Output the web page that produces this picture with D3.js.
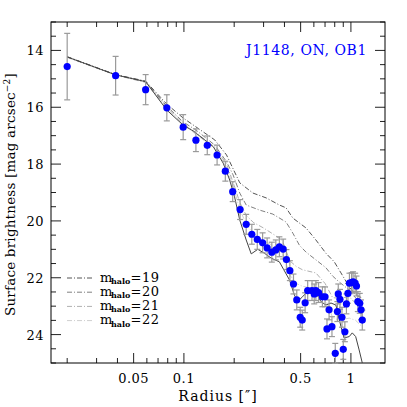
<!DOCTYPE html>
<html lang="en">
<head>
<meta charset="utf-8">
<title>J1148 surface brightness profile</title>
<script type="text/javascript" src="https://d3js.org/d3.v7.min.js"></script>
<style type="text/css">
  body { margin: 0; background: white; }
  text { font-family: "DejaVu Serif", serif; }
</style>
</head>
<body>
<script type="text/javascript">

// observed profile
var radius = [0.020, 0.039, 0.059, 0.079, 0.099, 0.118, 0.138, 0.158, 0.177, 0.196,
              0.217, 0.236, 0.255, 0.275, 0.296, 0.315, 0.336, 0.355, 0.373, 0.393,
              0.411, 0.431, 0.453, 0.474, 0.497, 0.511, 0.532, 0.551, 0.585, 0.603,
              0.617, 0.640, 0.675, 0.700, 0.719, 0.740, 0.770, 0.806, 0.830, 0.840,
              0.860, 0.884, 0.900, 0.920, 0.940, 0.960, 0.980, 1.010, 1.030, 1.060,
              1.080, 1.100, 1.130, 1.150, 1.170];
var sb = [14.57, 14.89, 15.38, 16.02, 16.70, 17.16, 17.34, 17.68, 18.25, 18.97,
          19.60, 20.12, 20.47, 20.65, 20.77, 20.95, 21.10, 21.02, 20.91, 20.99,
          21.36, 21.75, 22.22, 22.78, 23.39, 23.49, 22.88, 22.45, 22.45, 22.57,
          22.45, 22.52, 22.67, 22.67, 23.80, 23.13, 23.72, 24.66, 23.19, 22.57,
          22.76, 23.39, 24.52, 23.90, 22.92, 22.55, 22.19, 22.17, 22.14, 22.19,
          22.29, 22.84, 22.90, 23.13, 23.49];
var sbErr = [1.17, 0.68, 0.53, 0.46, 0.44, 0.40, 0.33, 0.35, 0.35, 0.35,
             0.35, 0.35, 0.35, 0.35, 0.35, 0.35, 0.35, 0.35, 0.35, 0.35,
             0.35, 0.35, 0.35, 0.35, 0.35, 0.35, 0.35, 0.35, 0.35, 0.35,
             0.35, 0.35, 0.35, 0.35, 0.35, 0.35, 0.35, 0.35, 0.35, 0.35,
             0.35, 0.35, 0.35, 0.35, 0.35, 0.35, 0.35, 0.35, 0.35, 0.35,
             0.35, 0.35, 0.35, 0.35, 0.35];

// model curves, [radius, mag]
var modelNoHalo = [[0.020,14.23],[0.039,14.86],[0.059,15.10],[0.079,16.10],[0.099,16.63],[0.114,16.84],
                   [0.150,17.39],[0.172,17.97],[0.188,18.56],[0.201,19.15],[0.216,19.97],[0.236,20.67],
                   [0.253,21.16],[0.277,21.00],[0.304,21.14],[0.333,21.31],[0.373,21.44],[0.429,22.08],
                   [0.459,22.61],[0.479,22.84],[0.513,22.67],[0.549,22.49],[0.617,22.54],[0.662,22.84],
                   [0.709,22.96],[0.760,22.89],[0.813,22.96],[0.872,23.72],[0.910,24.12],[0.977,24.07],
                   [1.019,23.94],[1.068,24.07],[1.120,24.54],[1.170,25.00]];
var modelHalo19 = [[0.020,14.22],[0.039,14.85],[0.059,15.08],[0.079,15.89],[0.099,16.38],[0.118,16.69],
                   [0.153,17.15],[0.180,17.68],[0.216,18.66],[0.259,19.02],[0.311,19.19],[0.373,19.44],
                   [0.409,19.54],[0.449,19.90],[0.539,20.25],[0.617,20.67],[0.709,21.14],[0.795,21.44],
                   [0.872,21.83],[0.977,22.32],[1.068,22.61],[1.170,22.71]];
var modelHalo20 = [[0.020,14.23],[0.039,14.86],[0.059,15.10],[0.079,15.96],[0.099,16.52],[0.118,16.80],
                   [0.153,17.33],[0.180,17.92],[0.197,18.38],[0.216,19.02],[0.236,19.44],[0.284,19.62],
                   [0.341,19.76],[0.409,20.04],[0.449,20.43],[0.492,20.86],[0.539,21.10],[0.617,21.37],
                   [0.709,21.65],[0.777,21.94],[0.851,22.15],[0.977,22.43],[1.068,22.71],[1.170,22.96]];
var modelHalo21 = [[0.020,14.23],[0.039,14.86],[0.059,15.12],[0.079,16.00],[0.099,16.58],[0.118,16.90],
                   [0.153,17.40],[0.180,18.00],[0.200,18.75],[0.216,19.35],[0.236,19.80],[0.260,20.05],
                   [0.300,20.25],[0.350,20.50],[0.389,20.70],[0.430,21.40],[0.470,21.60],[0.513,21.72],
                   [0.617,21.83],[0.700,22.20],[0.777,22.70],[0.851,22.72],[0.977,22.67],[1.068,22.90],
                   [1.170,23.13]];
var modelHalo22 = [[0.020,14.25],[0.039,14.87],[0.059,15.13],[0.079,16.05],[0.099,16.60],[0.118,16.95],
                   [0.153,17.45],[0.180,18.10],[0.200,18.90],[0.216,19.60],[0.236,20.10],[0.260,20.45],
                   [0.300,20.70],[0.350,20.90],[0.389,21.10],[0.430,21.90],[0.470,22.20],[0.513,22.30],
                   [0.617,22.40],[0.709,22.80],[0.777,23.40],[0.851,23.50],[0.977,23.42],[1.068,23.50],
                   [1.170,23.73]];

var legendLabels = ["19", "20", "21", "22"];
var xTickLabels = [0.05, 0.1, 0.5, 1];
var yTickLabels = [14, 16, 18, 20, 22, 24];

var w = 407, h = 407;
var pLeft = 51, pRight = 385, pTop = 22, pBottom = 363;

var x = d3.scaleLog().domain([0.016, 1.6]).range([pLeft, pRight]);
var y = d3.scaleLinear().domain([13, 25]).range([pTop, pBottom]);

var svg = d3.select("body").append("svg")
  .attr("width", w)
  .attr("height", h);

// minor/major ticks, drawn inward on all four sides
var xMinor = [];
[0.01, 0.1, 1].forEach(function(dec) {
  for (var k = 1; k <= 9; k++) {
    var v = +(dec * k).toFixed(4);
    if (v >= 0.016 && v <= 1.6) xMinor.push(v);
  }
});
var yMinor = d3.range(13, 25.01, 0.5);

var tickCol = "#222";
function isMajorX(v) {
  return xTickLabels.some(function(t) { return Math.abs(t - v) < 1e-9; });
}

svg.selectAll(".xtick-b").data(xMinor).enter().append("line")
  .attr("x1", function(d) { return x(d); })
  .attr("x2", function(d) { return x(d); })
  .attr("y1", pBottom)
  .attr("y2", function(d) { return pBottom - (isMajorX(d) ? 10 : 5); })
  .attr("stroke", tickCol);
svg.selectAll(".xtick-t").data(xMinor).enter().append("line")
  .attr("x1", function(d) { return x(d); })
  .attr("x2", function(d) { return x(d); })
  .attr("y1", pTop)
  .attr("y2", function(d) { return pTop + (isMajorX(d) ? 10 : 5); })
  .attr("stroke", tickCol);
svg.selectAll(".ytick-l").data(yMinor).enter().append("line")
  .attr("x1", pLeft)
  .attr("x2", function(d) { return pLeft + (d % 2 === 0 ? 10 : 5); })
  .attr("y1", function(d) { return y(d); })
  .attr("y2", function(d) { return y(d); })
  .attr("stroke", tickCol);
svg.selectAll(".ytick-r").data(yMinor).enter().append("line")
  .attr("x1", pRight)
  .attr("x2", function(d) { return pRight - (d % 2 === 0 ? 10 : 5); })
  .attr("y1", function(d) { return y(d); })
  .attr("y2", function(d) { return y(d); })
  .attr("stroke", tickCol);

// tick labels
svg.selectAll(".xlab").data(xTickLabels).enter().append("text")
  .attr("x", function(d) { return x(d); })
  .attr("y", 383)
  .attr("text-anchor", "middle")
  .attr("font-size", "13px")
  .attr("letter-spacing", "0.5px")
  .text(function(d) { return d; });
svg.selectAll(".ylab").data(yTickLabels).enter().append("text")
  .attr("x", 44)
  .attr("y", function(d) { return y(d) + 5; })
  .attr("text-anchor", "end")
  .attr("font-size", "13px")
  .attr("letter-spacing", "0.5px")
  .text(function(d) { return d; });

// frame
svg.append("rect")
  .attr("x", pLeft).attr("y", pTop)
  .attr("width", pRight - pLeft).attr("height", pBottom - pTop)
  .attr("fill", "none").attr("stroke", "black");

// axis titles
svg.append("text")
  .attr("x", 218).attr("y", 401)
  .attr("text-anchor", "middle")
  .attr("font-size", "14px")
  .attr("letter-spacing", "1px")
  .text("Radius [\u2033]");

var ylab = svg.append("text")
  .attr("transform", "translate(15," + ((pTop + pBottom) / 2 + 2) + ") rotate(-90)")
  .attr("text-anchor", "middle")
  .attr("font-size", "13.5px")
  .attr("letter-spacing", "0.2px");
ylab.append("tspan").text("Surface brightness [mag arcsec");
ylab.append("tspan").attr("dy", -5).attr("font-size", "9px").text("\u22122");
ylab.append("tspan").attr("dy", 5).text("]");

// models
var line = d3.line()
  .x(function(d) { return x(d[0]); })
  .y(function(d) { return y(d[1]); });

var models = [
  { data: modelHalo22, color: "#cfcfcf", dash: "5,2,1,2" },
  { data: modelHalo21, color: "#b0b0b0", dash: "5,2,1,2" },
  { data: modelHalo20, color: "#808080", dash: "5,2,1,2" },
  { data: modelHalo19, color: "#555555", dash: "5,2,1,2" },
  { data: modelNoHalo, color: "#444444", dash: null }
];

svg.append("clipPath").attr("id", "plotclip")
  .append("rect")
  .attr("x", pLeft).attr("y", pTop)
  .attr("width", pRight - pLeft).attr("height", pBottom - pTop);

svg.selectAll(".model").data(models).enter().append("path")
  .attr("d", function(d) { return line(d.data); })
  .attr("fill", "none")
  .attr("stroke", function(d) { return d.color; })
  .attr("stroke-width", 1)
  .attr("stroke-dasharray", function(d) { return d.dash; })
  .attr("clip-path", "url(#plotclip)");

// error bars + points
var pts = radius.map(function(r, i) { return [r, sb[i], sbErr[i]]; });
var errCol = "#9a9a9a";

svg.selectAll(".err").data(pts).enter().append("line")
  .attr("x1", function(d) { return x(d[0]); })
  .attr("x2", function(d) { return x(d[0]); })
  .attr("y1", function(d) { return y(d[1] - d[2]); })
  .attr("y2", function(d) { return y(d[1] + d[2]); })
  .attr("stroke", errCol).attr("stroke-width", 1.2);
svg.selectAll(".capt").data(pts).enter().append("line")
  .attr("x1", function(d) { return x(d[0]) - 3; })
  .attr("x2", function(d) { return x(d[0]) + 3; })
  .attr("y1", function(d) { return y(d[1] - d[2]); })
  .attr("y2", function(d) { return y(d[1] - d[2]); })
  .attr("stroke", errCol).attr("stroke-width", 1.2);
svg.selectAll(".capb").data(pts).enter().append("line")
  .attr("x1", function(d) { return x(d[0]) - 3; })
  .attr("x2", function(d) { return x(d[0]) + 3; })
  .attr("y1", function(d) { return y(d[1] + d[2]); })
  .attr("y2", function(d) { return y(d[1] + d[2]); })
  .attr("stroke", errCol).attr("stroke-width", 1.2);

svg.selectAll(".pt").data(pts).enter().append("circle")
  .attr("cx", function(d) { return x(d[0]); })
  .attr("cy", function(d) { return y(d[1]); })
  .attr("r", 3.6)
  .attr("fill", "#0000ff");

// title
svg.append("text")
  .attr("x", 367).attr("y", 55)
  .attr("text-anchor", "end")
  .attr("font-size", "14px")
  .attr("letter-spacing", "0.6px")
  .attr("fill", "#0000ff")
  .text("J1148, ON, OB1");

// legend: m, subscript and value as separate texts so the rows don't collide
var legendColors = ["#555555", "#808080", "#b0b0b0", "#cfcfcf"];
var leg = svg.selectAll(".leg").data(legendLabels).enter().append("g")
  .attr("transform", function(d, i) { return "translate(0," + (278 + i * 14.2) + ")"; });
leg.append("line")
  .attr("x1", 67).attr("x2", 93).attr("y1", 0).attr("y2", 0)
  .attr("stroke", function(d, i) { return legendColors[i]; })
  .attr("stroke-dasharray", "5,2,1,2");
leg.append("text")
  .attr("x", 100).attr("y", 3.5)
  .attr("font-size", "13px")
  .text("m");
leg.append("text")
  .attr("x", 111).attr("y", 6)
  .attr("font-size", "8px")
  .attr("font-weight", "bold")
  .text("halo");
leg.append("text")
  .attr("x", 130.5).attr("y", 3.5)
  .attr("font-size", "13px")
  .attr("letter-spacing", "0.6px")
  .text(function(d) { return "=" + d; });

</script>
</body>
</html>
